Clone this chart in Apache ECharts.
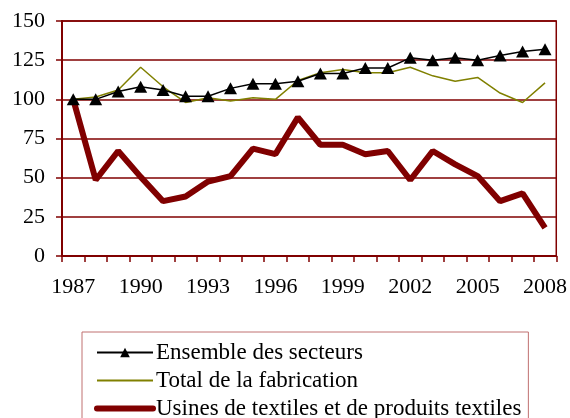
<!DOCTYPE html>
<html>
<head>
<meta charset="utf-8">
<script src="https://cdn.jsdelivr.net/npm/echarts@6/dist/echarts.min.js"></script>
<style>
  html, body { margin: 0; padding: 0; background: #fff; }
  #chart { width: 570px; height: 418px; }
</style>
</head>
<body>
<div id="chart"></div>
<script>
// années
const years = ['1987', '1988', '1989', '1990', '1991', '1992', '1993', '1994', '1995', '1996', '1997',
  '1998', '1999', '2000', '2001', '2002', '2003', '2004', '2005', '2006', '2007', '2008'];

// indices (1987 = 100)
const ensemble = [100, 100, 105, 108, 106, 102, 102, 107, 110, 110, 111.5,
  116.5, 116.5, 120, 120, 126.5, 125, 126.5, 125, 128, 130.5, 132];
const fabrication = [100, 101.5, 106, 120.5, 108, 98, 101, 99, 101, 100, 112,
  117, 119, 117, 117, 120.5, 115, 111.5, 114, 104, 98, 110.5];
const textiles = [100, 48.5, 67, 50.5, 35, 38, 47.5, 51, 68.5, 65, 88.5,
  71, 71, 65, 67, 48.5, 67, 58.5, 51, 35, 40, 18];

const seriesNames = ['Ensemble des secteurs', 'Total de la fabrication', 'Usines de textiles et de produits textiles'];

const maroon = '#800000';
const olive = '#808000';
const serif = 'Liberation Serif';

const chart = echarts.init(document.getElementById('chart'), null, { renderer: 'canvas' });

chart.setOption({
  animation: false,
  backgroundColor: '#fff',
  grid: {
    left: 62,
    right: 12,
    top: 21,
    bottom: 162,
    show: true,
    borderColor: maroon,
    borderWidth: 1.5
  },
  legend: {
    orient: 'vertical',
    left: 82,
    top: 332,
    height: 130,
    padding: [9, 7, 8, 12],
    itemGap: 5,
    itemWidth: 56,
    itemHeight: 12,
    borderColor: '#c07070',
    borderWidth: 1,
    borderRadius: 0,
    textStyle: { fontFamily: serif, fontSize: 23, color: '#000', padding: [0, 0, 0, -2] },
    data: [
      { name: seriesNames[0] },
      { name: seriesNames[1], itemStyle: { opacity: 0 }, lineStyle: { width: 2 } },
      { name: seriesNames[2], itemStyle: { opacity: 0 }, lineStyle: { width: 6, cap: 'round' } }
    ]
  },
  xAxis: {
    type: 'category',
    data: years,
    boundaryGap: true,
    axisLine: { lineStyle: { color: maroon, width: 2 } },
    axisTick: { show: true, interval: 0, length: 6, lineStyle: { color: maroon, width: 1.5 } },
    axisLabel: { interval: 2, fontFamily: serif, fontSize: 22, color: '#000', margin: 20 }
  },
  yAxis: {
    type: 'value',
    min: 0,
    max: 150,
    interval: 25,
    axisLine: { show: true, lineStyle: { color: maroon, width: 2 } },
    axisTick: { show: true, length: 6, lineStyle: { color: maroon, width: 1.5 } },
    splitLine: { lineStyle: { color: maroon, width: 1.5 } },
    axisLabel: { fontFamily: serif, fontSize: 22, color: '#000', margin: 17 }
  },
  series: [
    {
      name: seriesNames[1],
      type: 'line',
      data: fabrication,
      symbol: 'none',
      z: 3,
      itemStyle: { color: olive },
      lineStyle: { color: olive, width: 1.5 }
    },
    {
      name: seriesNames[2],
      type: 'line',
      data: textiles,
      symbol: 'none',
      z: 2,
      itemStyle: { color: maroon },
      lineStyle: { color: maroon, width: 6 }
    },
    {
      name: seriesNames[0],
      type: 'line',
      data: ensemble,
      symbol: 'triangle',
      symbolSize: [13, 12],
      showAllSymbol: true,
      z: 4,
      itemStyle: { color: '#000' },
      lineStyle: { color: '#000', width: 1.5 }
    }
  ]
});
</script>
</body>
</html>
